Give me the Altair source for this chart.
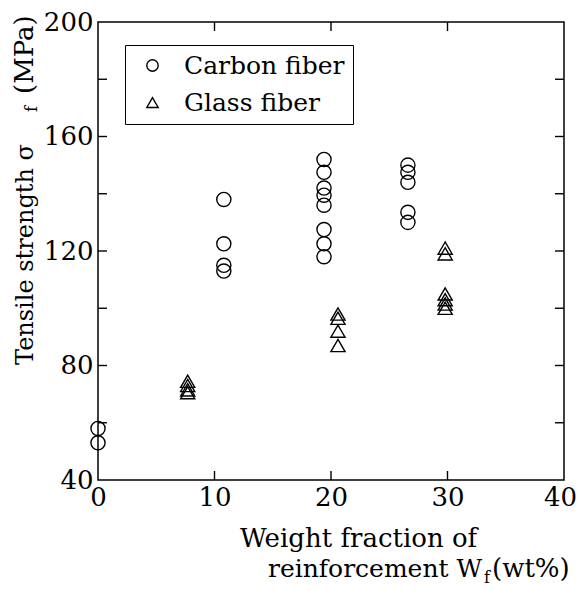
import altair as alt
import pandas as pd

# ---- data ----
series = ["Carbon fiber", "Glass fiber"]
carbon_x = [0, 0,
            10.8, 10.8, 10.8, 10.8,
            19.4, 19.4, 19.4, 19.4, 19.4, 19.4, 19.4, 19.4,
            26.6, 26.6, 26.6, 26.6, 26.6]
carbon_y = [58, 53,
            138, 122.5, 115, 113,
            152, 147.5, 142, 139.5, 136, 127.5, 122.5, 118,
            150, 147.5, 144, 133.5, 130]
glass_x = [7.7, 7.7, 7.7, 7.7,
           20.6, 20.6, 20.6, 20.6,
           29.8, 29.8, 29.8, 29.8, 29.8, 29.8]
glass_y = [74.5, 73, 71.5, 70.5,
           98, 96.5, 92, 87,
           121, 119, 105, 103, 101.5, 100]

x_labels = [0, 10, 20, 30, 40]
y_labels = [40, 80, 120, 160, 200]
x_ticks = [10, 20, 30]
y_ticks = [60, 80, 100, 120, 140, 160, 180]
y_title = ["Tensile strength σ", "f", "(MPa)"]
x_title = ["Weight fraction of", "reinforcement W", "f", "(wt%)"]

# ---- layout ----
W, H = 466, 458
TICK = 9
FONT = "DejaVu Serif"

pts = pd.DataFrame({
    "x": carbon_x + glass_x,
    "y": carbon_y + glass_y,
    "series": [series[0]] * len(carbon_x) + [series[1]] * len(glass_x),
})

xscale = alt.Scale(domain=[0, 40], nice=False, zero=False)
yscale = alt.Scale(domain=[40, 200], nice=False, zero=False)
x_axis = alt.Axis(values=x_labels, title=None, domain=False, ticks=False,
                  tickSize=0, grid=False, labelFlush=False, labelOverlap=False,
                  labelPadding=4, labelFont=FONT, labelFontSize=26,
                  labelOffset=alt.condition("datum.value == 40", alt.value(-4), alt.value(0)),
                  labelColor="black", format="d")
y_axis = alt.Axis(values=y_labels, title=None, domain=False, ticks=False,
                  tickSize=0, grid=False, labelFlush=False, labelOverlap=False,
                  labelPadding=5, labelFont=FONT, labelFontSize=26,
                  labelColor="black", format="d")

points = alt.Chart(pts).mark_point(
    filled=False, color="black", strokeWidth=1.4, size=200, opacity=1
).encode(
    x=alt.X("x:Q", scale=xscale, axis=x_axis),
    y=alt.Y("y:Q", scale=yscale, axis=y_axis),
    shape=alt.Shape("series:N",
                    scale=alt.Scale(domain=series, range=["circle", "triangle-up"]),
                    legend=alt.Legend(title=None, orient="none", legendX=27, legendY=23,
                                      labelFont=FONT, labelFontSize=25, labelColor="black",
                                      labelLimit=400,
                                      symbolSize=130, symbolStrokeWidth=1.4,
                                      symbolOffset=7, labelOffset=19, rowPadding=11,
                                      padding=8, strokeColor="black",
                                      fillColor="white")),
)

xt = pd.DataFrame({"x": x_ticks})
yt = pd.DataFrame({"y": y_ticks})
rule_style = dict(color="black", strokeWidth=1.4)

bottom_ticks = alt.Chart(xt).mark_rule(**rule_style).encode(
    x=alt.X("x:Q", scale=xscale, axis=x_axis),
    y=alt.value(H), y2=alt.value(H - TICK))
top_ticks = alt.Chart(xt).mark_rule(**rule_style).encode(
    x=alt.X("x:Q", scale=xscale, axis=x_axis),
    y=alt.value(0), y2=alt.value(TICK))
left_ticks = alt.Chart(yt).mark_rule(**rule_style).encode(
    y=alt.Y("y:Q", scale=yscale, axis=y_axis),
    x=alt.value(0), x2=alt.value(TICK))
right_ticks = alt.Chart(yt).mark_rule(**rule_style).encode(
    y=alt.Y("y:Q", scale=yscale, axis=y_axis),
    x=alt.value(W), x2=alt.value(W - TICK))


def label(txt, x, y, size, angle=0):
    return alt.Chart(pd.DataFrame({"t": [txt]})).mark_text(
        font=FONT, fontSize=size, angle=angle, align="left",
        baseline="alphabetic", color="black"
    ).encode(x=alt.value(x), y=alt.value(y), text="t:N")


titles = [
    label(y_title[0], -65, 343, 24, 270),
    label(y_title[1], -61, 90, 16, 270),
    label(y_title[2], -65, 72, 26, 270),
    label(x_title[0], 142, 525, 26),
    label(x_title[1], 170, 555, 25),
    label(x_title[2], 386, 561, 16),
    label(x_title[3], 394, 555, 26),
]

chart = alt.layer(
    points, bottom_ticks, top_ticks, left_ticks, right_ticks, *titles
).properties(
    width=W, height=H,
    autosize=alt.AutoSizeParams(type="none"),
    padding={"left": 98, "top": 22, "right": 15, "bottom": 111},
    background="white",
).configure_view(stroke="black", strokeWidth=1.5)

chart.save("out.html", embed_options={"renderer": "svg", "actions": False})
